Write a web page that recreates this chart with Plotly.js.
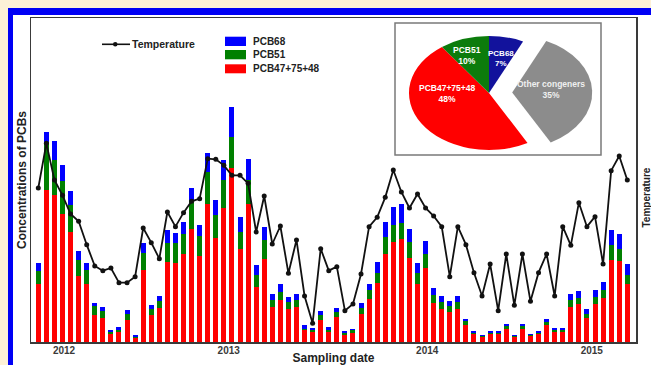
<!DOCTYPE html>
<html>
<head>
<meta charset="utf-8">
<script src="https://cdn.plot.ly/plotly-3.0.1.min.js"></script>
<style>
  html, body { margin: 0; padding: 0; }
  body { width: 651px; height: 365px; background: #fdf1d7; position: relative; overflow: hidden; }
  #sheet { position: absolute; left: 8px; top: 8px; right: 0; bottom: 0; background: #ffffff;
           border-top: 7px solid #0000f5; border-left: 5px solid #0000f5; }
  #chart { position: absolute; left: 0; top: 0; width: 651px; height: 365px; }
</style>
</head>
<body>
<div id="sheet"></div>
<div id="chart"></div>
<script>
// Monthly-ish sampling campaign, 74 samples from late 2011 to early 2015
const sampleNo = Array.from({ length: 74 }, (_, i) => i + 1);

const yearTickPos = [4.19, 24.6, 49.2, 69.6];
const yearLabels = ['2012', '2013', '2014', '2015'];

// Stacked concentrations of the three congener groups
const pcb47_75_48 = [17.5, 45.7, 44.0, 38.5, 33.0, 19.8, 17.5, 8.2, 7.3, 2.4,
  2.9, 6.5, 1.3, 21.5, 8.0, 10.2, 24.0, 23.7, 26.3, 34.0,
  25.7, 41.5, 31.3, 40.3, 52.3, 28.0, 41.5, 16.5, 25.0, 10.5,
  12.5, 10.0, 10.5, 3.5, 3.0, 6.5, 3.0, 7.5, 2.2, 2.8,
  8.3, 13.0, 17.7, 26.5, 30.0, 31.0, 25.3, 17.5, 22.2, 11.8,
  10.0, 9.0, 10.0, 5.2, 2.3, 1.5, 2.3, 2.3, 4.0, 1.5,
  4.0, 1.9, 2.3, 5.0, 3.1, 3.1, 10.5, 11.3, 7.3, 11.5,
  13.3, 24.7, 24.2, 17.3];

const pcb51 = [3.8, 14.3, 10.5, 9.7, 8.0, 4.7, 4.0, 2.5, 2.0, 0.6,
  0.8, 1.8, 0.2, 5.2, 2.0, 2.0, 5.7, 6.0, 6.2, 8.5,
  6.0, 9.5, 6.7, 8.4, 9.2, 5.0, 7.0, 3.5, 5.5, 2.0,
  2.5, 2.0, 2.2, 0.5, 0.5, 1.5, 0.7, 1.5, 0.5, 0.7,
  2.0, 2.5, 3.1, 5.0, 5.0, 4.7, 4.7, 3.2, 4.1, 2.4,
  2.0, 1.7, 2.0, 1.0, 0.4, 0.2, 0.4, 0.4, 0.8, 0.2,
  0.8, 0.3, 0.4, 1.0, 0.6, 0.6, 2.0, 1.9, 1.2, 2.0,
  2.2, 4.3, 3.8, 2.7];

const pcb68 = [2.4, 3.0, 5.8, 5.0, 4.3, 2.7, 2.2, 1.1, 1.2, 0.5,
  0.7, 1.2, 0.5, 3.0, 1.0, 1.6, 3.8, 3.0, 3.5, 3.7,
  3.5, 5.8, 4.5, 6.0, 9.0, 4.5, 6.5, 3.0, 4.0, 2.0,
  2.5, 1.5, 1.8, 1.0, 0.7, 1.2, 0.8, 1.3, 0.6, 0.5,
  1.4, 2.0, 3.2, 4.5, 5.5, 5.8, 4.0, 3.0, 4.0, 2.0,
  1.8, 1.5, 1.8, 0.8, 0.5, 0.3, 0.5, 0.5, 0.7, 0.3,
  0.7, 0.3, 0.5, 0.8, 0.6, 0.6, 2.0, 2.0, 1.3, 2.2,
  2.4, 4.5, 4.5, 3.5];

// Water temperature at each sampling
const temperature = [23.1, 29.8, 24.3, 22.0, 19.2, 18.1, 14.6, 11.4, 10.7, 11.1,
  8.9, 8.9, 9.8, 17.1, 14.9, 12.5, 19.5, 17.3, 19.4, 21.1,
  21.5, 27.5, 27.4, 26.5, 25.0, 25.0, 23.8, 16.5, 21.9, 14.7,
  17.4, 10.3, 15.3, 6.9, 2.8, 14.0, 10.7, 11.3, 4.7, 5.7,
  10.2, 17.3, 18.7, 21.7, 25.8, 22.5, 20.1, 22.2, 20.1, 18.9,
  17.3, 9.8, 17.3, 14.6, 10.4, 6.9, 11.7, 4.7, 13.2, 5.5,
  13.2, 6.1, 10.4, 13.2, 6.9, 17.3, 14.5, 20.9, 17.3, 18.8,
  11.7, 25.7, 27.9, 24.3];

// Share of each congener group in the total (inset pie)
const pieLabels = ['PCB68', 'Other congeners', 'PCB47+75+48', 'PCB51'];
const pieShares = [7, 35, 48, 10];

// ---- geometry helpers (pixel -> paper fractions of the plot area)
const W = 651, H = 365;
const M = { l: 31, r: 15, t: 18, b: 23 };
const PW = W - M.l - M.r, PH = H - M.t - M.b;
const fx = x => (x - M.l) / PW;
const fy = y => 1 - (y - M.t) / PH;

const FONT = 'Liberation Sans, Arial, Helvetica, sans-serif';
const RED = '#ff0000', GREEN = '#008000', BLUE = '#0000ff';

const barCommon = { type: 'bar', x: sampleNo, hoverinfo: 'skip', showlegend: false };

const traces = [
  Object.assign({}, barCommon, { name: 'PCB47+75+48', y: pcb47_75_48, marker: { color: RED } }),
  Object.assign({}, barCommon, { name: 'PCB51', y: pcb51, marker: { color: GREEN } }),
  Object.assign({}, barCommon, { name: 'PCB68', y: pcb68, marker: { color: BLUE } }),
  {
    type: 'scatter', name: 'Temperature', x: sampleNo, y: temperature, yaxis: 'y2',
    mode: 'lines+markers', line: { color: '#111111', width: 1.8 },
    marker: { color: '#111111', size: 5 }, hoverinfo: 'skip', showlegend: false
  }
];

// Inset pie: circle of radius R, later stretched horizontally into an ellipse
const PIE_CX = 489, PIE_CY = 93, PIE_R = 57, PIE_PULL = 0.29, PIE_STRETCH = 80 / 57;
const half = PIE_R * (1 + PIE_PULL);
const pieIndex = traces.length;
traces.push({
  type: 'pie', labels: pieLabels, values: pieShares, sort: false,
  direction: 'clockwise', rotation: 0,
  pull: pieLabels.map(l => l === 'Other congeners' ? PIE_PULL : 0),
  marker: { colors: ['#12129c', '#8c8c8c', '#ff0000', '#0c7c0c'], line: { width: 0 } },
  textinfo: 'none', hoverinfo: 'skip', showlegend: false,
  domain: {
    x: [fx(PIE_CX - half), fx(PIE_CX + half)],
    y: [fy(PIE_CY + half), fy(PIE_CY - half)]
  }
});

const annotations = [];
const shapes = [];

// Legend: temperature line
shapes.push({ type: 'line', xref: 'paper', yref: 'paper', x0: fx(102), x1: fx(130), y0: fy(44.3), y1: fy(44.3),
  line: { color: '#111', width: 1.6 } });
shapes.push({ type: 'circle', xref: 'paper', yref: 'paper', x0: fx(113), x1: fx(117.5), y0: fy(42), y1: fy(46.5),
  fillcolor: '#111', line: { width: 0 } });
annotations.push({ xref: 'paper', yref: 'paper', x: fx(129.5), y: fy(44.3), xanchor: 'left', yanchor: 'middle',
  text: 'Temperature', showarrow: false, font: { family: FONT, size: 10.5, color: '#222', weight: 'bold' } });

// Legend: congener bars
const legendRows = [
  { label: 'PCB68', color: BLUE, y0: 36.7, y1: 46 },
  { label: 'PCB51', color: GREEN, y0: 50, y1: 59.3 },
  { label: 'PCB47+75+48', color: RED, y0: 64.3, y1: 73.3 }
];
legendRows.forEach(r => {
  shapes.push({ type: 'rect', xref: 'paper', yref: 'paper', x0: fx(225), x1: fx(246), y0: fy(r.y1), y1: fy(r.y0),
    fillcolor: r.color, line: { width: 0 } });
  annotations.push({ xref: 'paper', yref: 'paper', x: fx(251), y: fy((r.y0 + r.y1) / 2), xanchor: 'left', yanchor: 'middle',
    text: r.label, showarrow: false, font: { family: FONT, size: 10, color: '#222', weight: 'bold' } });
});

// Inset frame around the pie
shapes.push({ type: 'rect', xref: 'paper', yref: 'paper', x0: fx(395), x1: fx(601), y0: fy(155), y1: fy(23),
  line: { color: '#7a7a7a', width: 1.5 }, fillcolor: 'rgba(0,0,0,0)', layer: 'above' });

// Slice labels
const pieLabelPos = {
  'PCB68': [501, 58.5],
  'Other congeners': [551, 89.5],
  'PCB47+75+48': [448, 93.5],
  'PCB51': [467, 56]
};
pieLabels.forEach((l, i) => {
  const p = pieLabelPos[l];
  annotations.push({ xref: 'paper', yref: 'paper', x: fx(p[0]), y: fy(p[1]), xanchor: 'center', yanchor: 'middle',
    text: l + '<br>' + pieShares[i] + '%', showarrow: false,
    font: { family: FONT, size: l === 'PCB68' ? 8 : 8.5, color: l === 'Other congeners' ? '#f0f0f0' : '#ffffff', weight: 'bold' } });
});

// Right-hand axis title
annotations.push({ xref: 'paper', yref: 'paper', x: fx(638), y: fy(197), xanchor: 'left', yanchor: 'middle',
  text: 'Temperature', textangle: -90, showarrow: false,
  font: { family: FONT, size: 10, color: '#222', weight: 'bold' } });

const layout = {
  width: W, height: H,
  margin: M,
  paper_bgcolor: 'rgba(0,0,0,0)',
  plot_bgcolor: 'rgba(0,0,0,0)',
  barmode: 'stack',
  bargap: 0.38,
  showlegend: false,
  font: { family: FONT, color: '#222' },
  xaxis: {
    range: [0.095, 75.08], showline: true, mirror: true, linecolor: '#3a3a3a', linewidth: 1.5,
    showgrid: false, zeroline: false, ticks: '', ticklabelstandoff: -2,
    tickmode: 'array', tickvals: yearTickPos, ticktext: yearLabels,
    tickfont: { family: FONT, size: 10, color: '#3a3a3a', weight: 'bold' },
    title: { text: 'Sampling date', font: { family: FONT, size: 12, color: '#222', weight: 'bold' }, standoff: 5 }
  },
  yaxis: {
    range: [0, 97.2], showline: true, mirror: true, linecolor: '#3a3a3a', linewidth: 1.5,
    showgrid: false, zeroline: false, ticks: '', showticklabels: false,
    title: { text: 'Concentrations of PCBs', font: { family: FONT, size: 12, color: '#222', weight: 'bold' }, standoff: 0 }
  },
  yaxis2: {
    overlaying: 'y', side: 'right', range: [0, 48.6],
    showline: false, showgrid: false, zeroline: false, ticks: '', showticklabels: false
  },
  shapes: shapes,
  annotations: annotations
};

Plotly.newPlot('chart', traces, layout, { staticPlot: true, displayModeBar: false }).then(gd => {
  // Stretch the pie horizontally into an ellipse around its own centre
  const cd0 = gd.calcdata[pieIndex][0];
  const g = gd.querySelector('.pielayer .trace');
  if (g && cd0 && isFinite(cd0.cx)) {
    g.setAttribute('transform',
      'translate(' + cd0.cx + ',' + cd0.cy + ') scale(' + PIE_STRETCH + ',1) translate(' + (-cd0.cx) + ',' + (-cd0.cy) + ')');
  }
});
</script>
</body>
</html>
